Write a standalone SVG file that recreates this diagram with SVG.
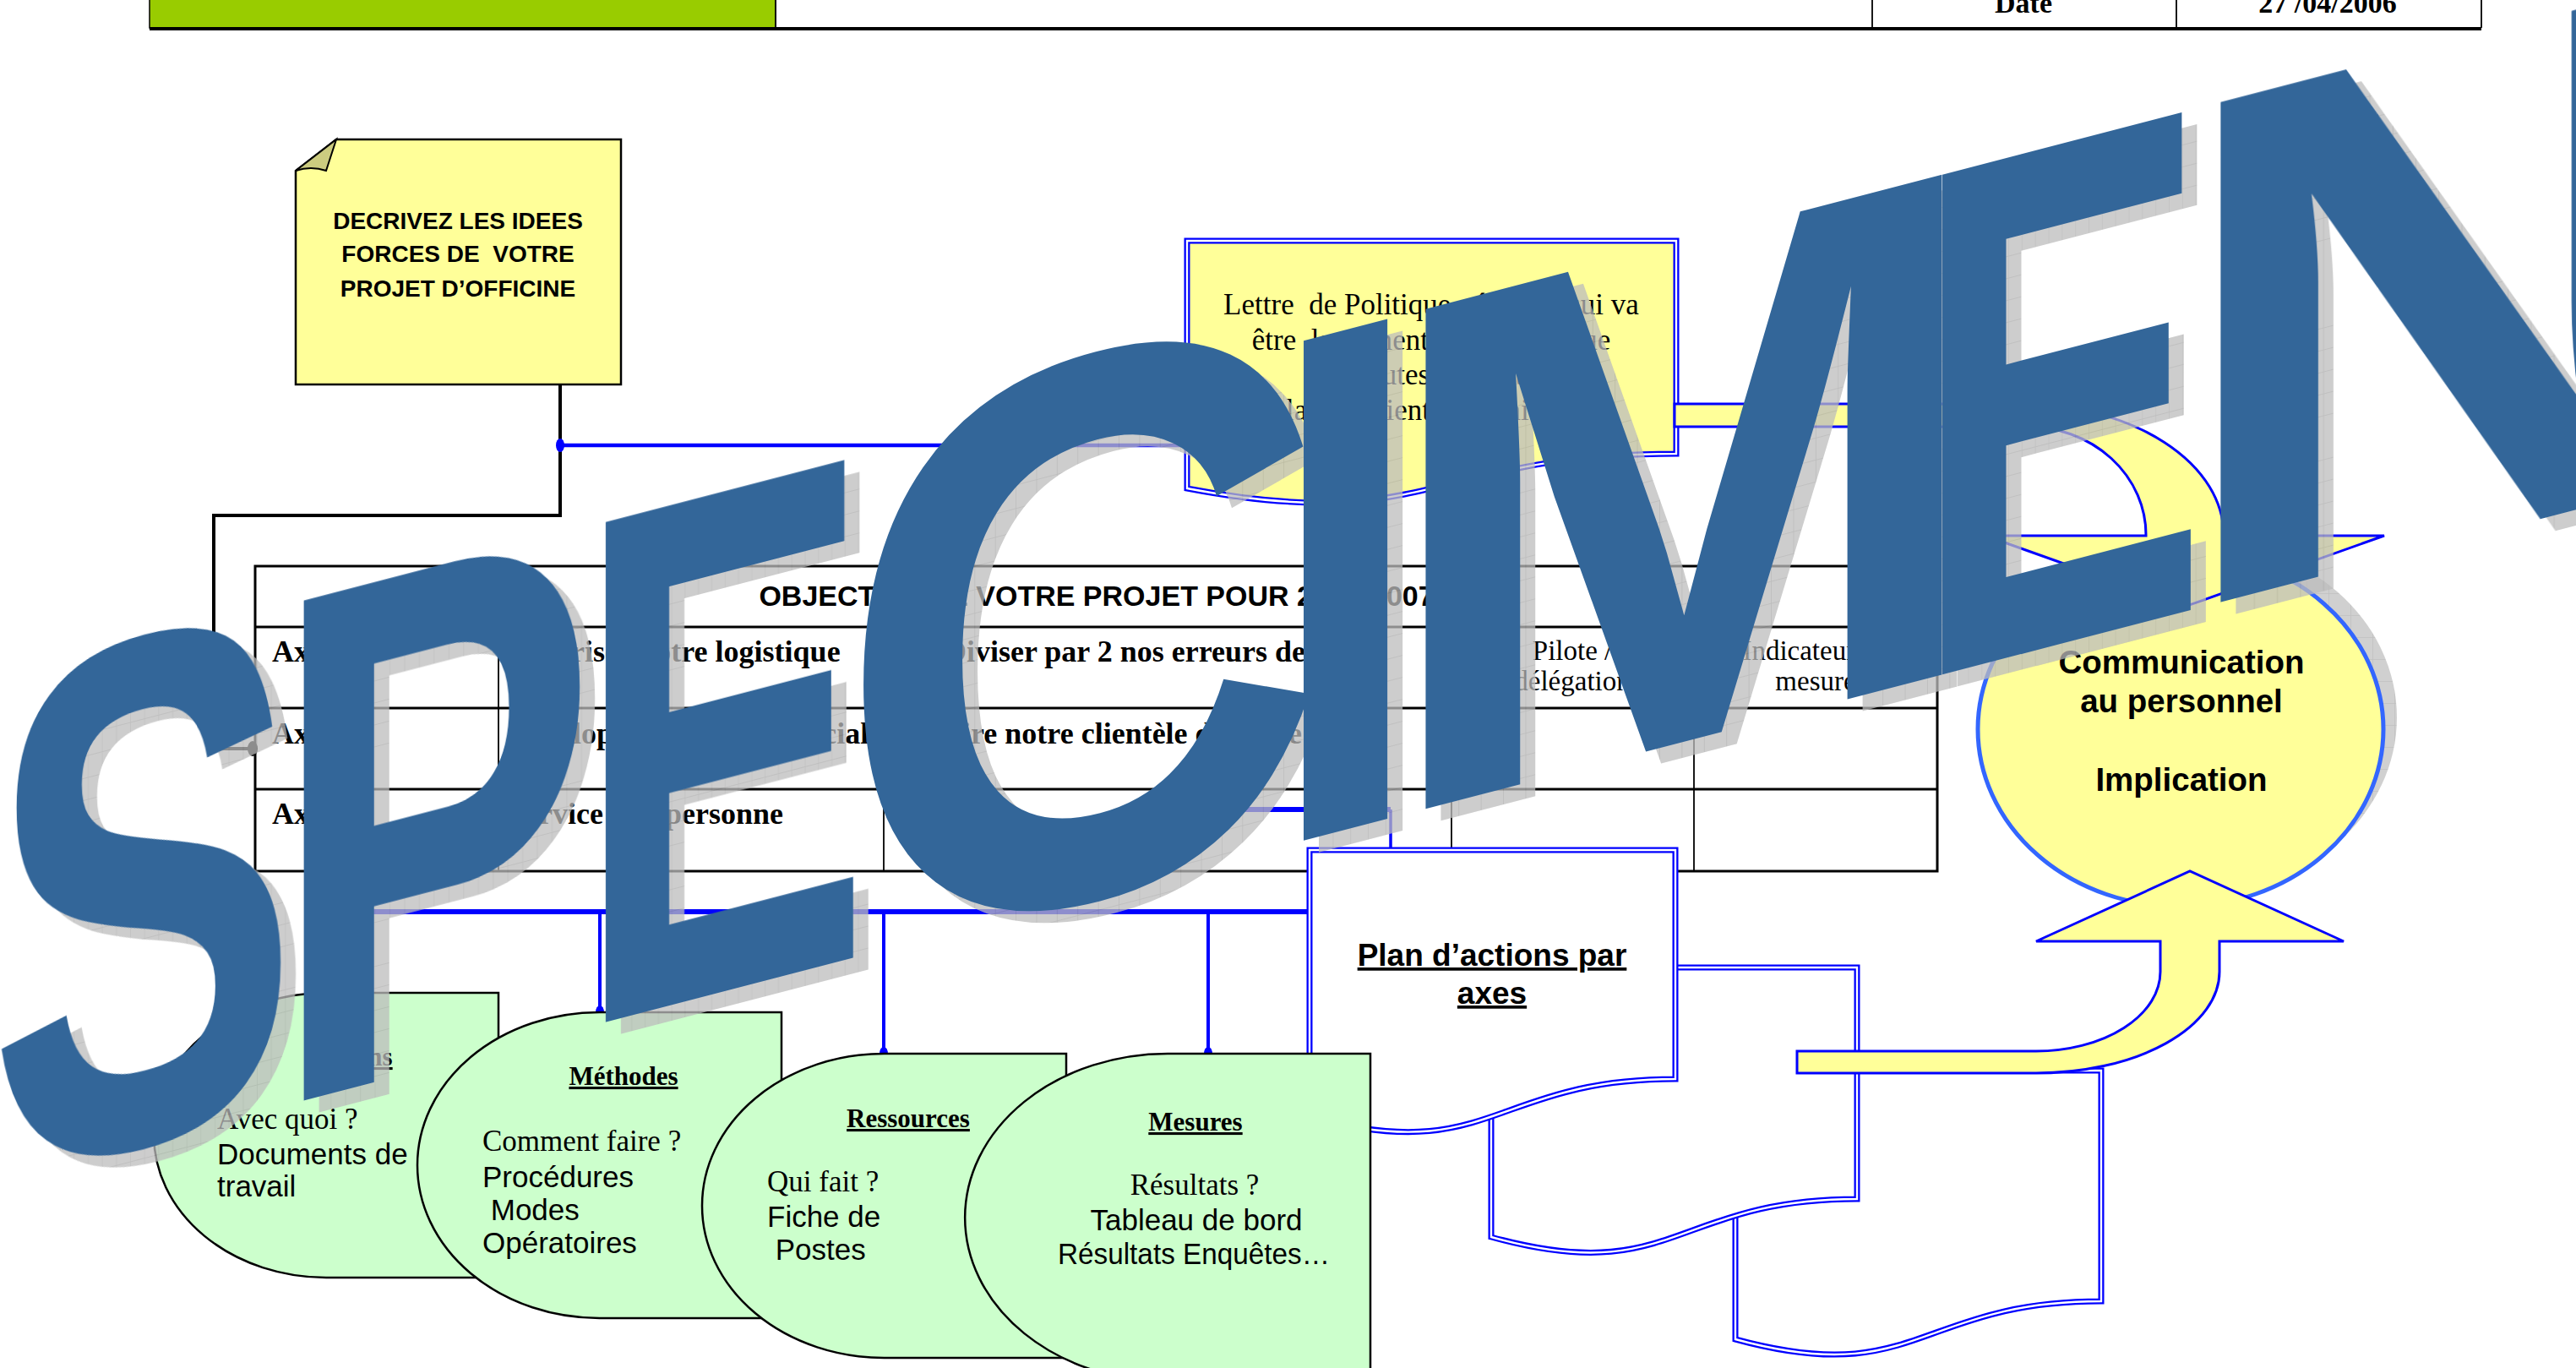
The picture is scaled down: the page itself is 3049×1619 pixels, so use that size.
<svg xmlns="http://www.w3.org/2000/svg" width="3049" height="1619" viewBox="0 0 3049 1619">
<defs>
<style>
.sans{font-family:"Liberation Sans",Arial,sans-serif}
.serif{font-family:"Liberation Serif","Times New Roman",serif}
.b{font-weight:bold}
.pre{white-space:pre}
.doc{stroke:#0000ff;stroke-width:7;stroke-linejoin:miter}
.gap{fill:none;stroke:#ffffff;stroke-width:2.4}
.green{fill:#ccffcc;stroke:#000;stroke-width:2.5}
.tl{stroke:#000;stroke-width:3;fill:none}
.tc{stroke:#000;stroke-width:1.8}
.arrow{fill:#ffff99;stroke:#0000ff;stroke-width:3}
.bl{stroke:#0000ff;fill:none}
.wm{font-family:"Liberation Sans",Arial,sans-serif;font-weight:bold;font-size:860px}
</style>
<pattern id="grid" width="26" height="26" patternUnits="userSpaceOnUse">
<rect width="26" height="26" fill="#bcbcbc"/>
<path d="M0 0H26M0 0V26" stroke="#a6a6a6" stroke-width="1.5"/>
</pattern>
</defs>
<rect width="3049" height="1619" fill="#ffffff"/>

<g id="header">
<rect x="177" y="-2" width="741" height="35" fill="#99cc00" stroke="#000" stroke-width="1.5"/>
<line x1="918" y1="0" x2="918" y2="33" class="tc"/>
<line x1="2216" y1="0" x2="2216" y2="33" class="tc"/>
<line x1="2576" y1="0" x2="2576" y2="33" class="tc"/>
<line x1="2937" y1="0" x2="2937" y2="33" class="tc"/>
<line x1="177" y1="34" x2="2937" y2="34" stroke="#000" stroke-width="4"/>
<text x="2395" y="15" class="serif b" font-size="34" text-anchor="middle">Date</text>
<text x="2755" y="15" class="serif b" font-size="34" text-anchor="middle">27 /04/2006</text>
</g>

<g id="connectors">
<path d="M663,383 V610 H253 V886 H300" fill="none" stroke="#000" stroke-width="4"/>
<circle cx="663" cy="383" r="8" fill="#000"/>
<ellipse cx="299" cy="886" rx="6" ry="9" fill="#000"/>
<line x1="663" y1="527" x2="1405" y2="527" class="bl" stroke-width="4.5"/>
<ellipse cx="663" cy="527" rx="5" ry="8" fill="#0000ff"/>
<line x1="386" y1="1079" x2="1550" y2="1079" class="bl" stroke-width="6"/>
<line x1="386" y1="1079" x2="386" y2="1175" class="bl" stroke-width="4"/>
<line x1="710" y1="1079" x2="710" y2="1198" class="bl" stroke-width="4"/>
<line x1="1046" y1="1079" x2="1046" y2="1247" class="bl" stroke-width="4"/>
<line x1="1430" y1="1079" x2="1430" y2="1247" class="bl" stroke-width="4"/>
<ellipse cx="710" cy="1198" rx="5" ry="8" fill="#0000ff"/>
<ellipse cx="1046" cy="1247" rx="5" ry="8" fill="#0000ff"/>
<ellipse cx="1430" cy="1247" rx="5" ry="8" fill="#0000ff"/>
<line x1="1400" y1="958" x2="1646" y2="958" class="bl" stroke-width="6"/>
<line x1="1646" y1="958" x2="1646" y2="1006" class="bl" stroke-width="3.5"/>
</g>

<g id="note-decrivez">
<path d="M398,165 H735 V455 H350 V202 Z" fill="#ffff99" stroke="#000" stroke-width="2.5"/>
<path d="M350,202 L398,165 L386,202 Q368,196 350,202 Z" fill="#cccc80" stroke="#000" stroke-width="2"/>
<text class="sans b" font-size="28" text-anchor="middle"><tspan x="542" y="271">DECRIVEZ LES IDEES</tspan><tspan x="542" y="310" class="pre">FORCES DE  VOTRE</tspan><tspan x="542" y="351">PROJET D’OFFICINE</tspan></text>
</g>

<g id="lettre-politique">
<path d="M1405,285 H1984 V537 C1694,537 1694,633 1405,578 Z" fill="#ffff99" class="doc"/>
<path d="M1405,285 H1984 V537 C1694,537 1694,633 1405,578 Z" class="gap"/>
<text class="serif pre" font-size="35" text-anchor="middle"><tspan x="1694" y="372">Lettre  de Politique générale qui va</tspan><tspan x="1694" y="414">être  largement  diffusée et lue</tspan><tspan x="1694" y="455">par  toutes les parties</tspan><tspan x="1694" y="497">salariés, clients, fournisseurs</tspan></text>
</g>

<g id="table-objectifs">
<rect x="302" y="670" width="1991" height="361" fill="#fff" class="tl"/>
<line x1="302" y1="742" x2="2293" y2="742" class="tl"/>
<line x1="302" y1="838" x2="2293" y2="838" class="tl"/>
<line x1="302" y1="934" x2="2293" y2="934" class="tl"/>
<line x1="590" y1="742" x2="590" y2="1031" class="tc"/>
<line x1="1046" y1="742" x2="1046" y2="1031" class="tc"/>
<line x1="1718" y1="742" x2="1718" y2="1031" class="tc"/>
<line x1="2005" y1="742" x2="2005" y2="1031" class="tc"/>
<text x="1298" y="717" class="sans b" font-size="34" text-anchor="middle">OBJECTIFS DE VOTRE PROJET POUR 2006-2007</text>
<g class="serif b" font-size="36">
<text x="322" y="783">Axe 1</text>
<text x="322" y="880">Axe 2</text>
<text x="322" y="975">Axe 3</text>
<text x="602" y="783">Maîtriser notre logistique</text>
<text x="602" y="880">Développement commercial</text>
<text x="602" y="975">Service à la personne</text>
<text x="1376" y="783" text-anchor="middle">Diviser par 2 nos erreurs de stock</text>
<text x="1063" y="880">Séduire notre clientèle de notre zone</text>
</g>
<g class="serif" font-size="33" text-anchor="middle">
<text x="1861" y="781">Pilote /</text>
<text x="1861" y="817">délégation</text>
<text x="2149" y="781">Indicateur de</text>
<text x="2149" y="817">mesure</text>
</g>
</g>

<g id="doc-3">
<path d="M2054,1267 H2487 V1540 C2270,1540 2270,1644 2054,1585 Z" fill="#fff" class="doc"/>
<path d="M2054,1267 H2487 V1540 C2270,1540 2270,1644 2054,1585 Z" class="gap"/>
</g>
<g id="doc-2">
<path d="M1765,1145 H2198 V1419 C1981,1419 1981,1524 1765,1464 Z" fill="#fff" class="doc"/>
<path d="M1765,1145 H2198 V1419 C1981,1419 1981,1524 1765,1464 Z" class="gap"/>
</g>
<g id="plan-actions">
<path d="M1550,1006 H1983 V1277 C1766,1277 1766,1380 1550,1322 Z" fill="#fff" class="doc"/>
<path d="M1550,1006 H1983 V1277 C1766,1277 1766,1380 1550,1322 Z" class="gap"/>
<text class="sans b" font-size="37" text-anchor="middle" text-decoration="underline"><tspan x="1766" y="1143">Plan d’actions par</tspan><tspan x="1766" y="1188">axes</tspan></text>
</g>

<g id="box-moyens">
<path d="M386,1175 H590 V1512 H386 A204 168.5 0 0 1 386,1175 Z" class="green"/>
<text x="413" y="1261" class="serif b" font-size="31" text-anchor="middle" text-decoration="underline">Moyens</text>
<text x="257" y="1336" class="serif" font-size="35">Avec quoi ?</text>
<text class="sans" font-size="35"><tspan x="257" y="1378">Documents de</tspan><tspan x="257" y="1416">travail</tspan></text>
</g>
<g id="box-methodes">
<path d="M709.5,1198 H925 V1560 H709.5 A215.5 181 0 0 1 709.5,1198 Z" class="green"/>
<text x="738" y="1284" class="serif b" font-size="31" text-anchor="middle" text-decoration="underline">Méthodes</text>
<text x="571" y="1362" class="serif" font-size="35">Comment faire ?</text>
<text class="sans pre" font-size="35"><tspan x="571" y="1405">Procédures</tspan><tspan x="571" y="1444"> Modes</tspan><tspan x="571" y="1483">Opératoires</tspan></text>
</g>
<g id="box-ressources">
<path d="M1046.5,1247 H1262 V1607 H1046.5 A215.5 180 0 0 1 1046.5,1247 Z" class="green"/>
<text x="1075" y="1334" class="serif b" font-size="31" text-anchor="middle" text-decoration="underline">Ressources</text>
<text x="908" y="1410" class="serif" font-size="35">Qui fait ?</text>
<text class="sans pre" font-size="35"><tspan x="908" y="1452">Fiche de</tspan><tspan x="908" y="1491"> Postes</tspan></text>
</g>
<g id="box-mesures">
<path d="M1382,1247 H1622 V1635 H1382 A240 194 0 0 1 1382,1247 Z" class="green"/>
<text x="1415" y="1338" class="serif b" font-size="31" text-anchor="middle" text-decoration="underline">Mesures</text>
<text x="1414" y="1414" class="serif" font-size="35" text-anchor="middle">Résultats ?</text>
<text x="1416" y="1456" class="sans" font-size="35" text-anchor="middle">Tableau de bord</text>
<text x="1413" y="1496" class="sans" font-size="35" text-anchor="middle" textLength="322" lengthAdjust="spacingAndGlyphs">Résultats Enquêtes…</text>
</g>

<g id="communication">
<ellipse cx="2597" cy="849" rx="240" ry="210" fill="url(#grid)" opacity="0.7"/>
<ellipse cx="2581" cy="863" rx="240" ry="210" fill="#ffff99" stroke="#3366ff" stroke-width="5"/>
<text class="sans b" font-size="38.5" text-anchor="middle"><tspan x="2582" y="797">Communication</tspan><tspan x="2582" y="843">au personnel</tspan><tspan x="2582" y="936">Implication</tspan></text>
</g>

<g id="arrow-down">
<path d="M1982,478 H2392 A240 155 0 0 1 2632,633 V634 H2822 L2586,718 L2350,634 H2540 V633 A140 128 0 0 0 2400,505 H1982 Z" class="arrow"/>
</g>
<g id="arrow-up">
<path d="M2127,1244 H2410 A147 94 0 0 0 2557,1150 V1114 H2410 L2592,1031 L2774,1114 H2627 V1150 A217 120 0 0 1 2410,1270 H2127 Z" class="arrow"/>
</g>

<g id="watermark-shadow" transform="translate(18,14)" fill="url(#grid)" opacity="0.75">
<text class="wm" transform="matrix(0.641,-0.1667,0,1,-14,1399.6)">S</text>
<text class="wm" transform="matrix(0.671,-0.1745,0,1,321,1312.5)">P</text>
<text class="wm" transform="matrix(0.607,-0.1578,0,1,682,1218.7)">E</text>
<text class="wm" transform="matrix(0.938,-0.2439,0,1.07,989,1138.9)">C</text>
<text class="wm" transform="matrix(0.8,-0.208,0,1,1497,1006.8)">I</text>
<text class="wm" transform="matrix(1.016,-0.2642,0,1,1629,972.5)">M</text>
<text class="wm" transform="matrix(0.609,-0.1583,0,1,2264,807.4)">E</text>
<text class="wm" transform="matrix(1.05,-0.273,0,1,2568,728.3)">N</text>
</g>
<g id="watermark" fill="#336699">
<text class="wm" transform="matrix(0.641,-0.1667,0,1,-14,1399.6)">S</text>
<text class="wm" transform="matrix(0.671,-0.1745,0,1,321,1312.5)">P</text>
<text class="wm" transform="matrix(0.607,-0.1578,0,1,682,1218.7)">E</text>
<text class="wm" transform="matrix(0.938,-0.2439,0,1.07,989,1138.9)">C</text>
<text class="wm" transform="matrix(0.8,-0.208,0,1,1497,1006.8)">I</text>
<text class="wm" transform="matrix(1.016,-0.2642,0,1,1629,972.5)">M</text>
<text class="wm" transform="matrix(0.609,-0.1583,0,1,2264,807.4)">E</text>
<text class="wm" transform="matrix(1.05,-0.273,0,1,2568,728.3)">N</text>
</g>
</svg>
